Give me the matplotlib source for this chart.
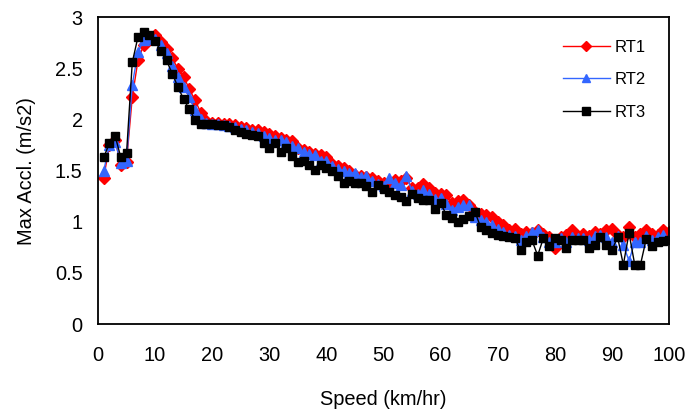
import matplotlib
matplotlib.use("Agg")
import matplotlib.pyplot as plt

plt.rcParams['font.family'] = ['Liberation Sans', 'DejaVu Sans']

speed = list(range(1, 101))

rt1 = [1.43, 1.75, 1.80, 1.56, 1.59, 2.22, 2.58, 2.73, 2.81, 2.83,
       2.76, 2.69, 2.60, 2.50, 2.42, 2.30, 2.19, 2.07, 1.99, 1.97,
       1.97, 1.96, 1.96, 1.95, 1.93, 1.92, 1.90, 1.90, 1.88, 1.86,
       1.84, 1.82, 1.80, 1.79, 1.72, 1.70, 1.68, 1.66, 1.65, 1.63,
       1.57, 1.55, 1.53, 1.50, 1.46, 1.45, 1.44, 1.43, 1.40, 1.38,
       1.38, 1.41, 1.40, 1.43, 1.33, 1.33, 1.37, 1.33, 1.28, 1.27,
       1.26, 1.18, 1.20, 1.21, 1.16, 1.10, 1.08, 1.07, 1.05, 1.00,
       0.97, 0.92, 0.93, 0.88, 0.90, 0.89, 0.92, 0.88, 0.85, 0.74,
       0.85, 0.87, 0.92, 0.86, 0.88, 0.86, 0.90, 0.88, 0.92, 0.93,
       0.87, 0.85, 0.95, 0.85, 0.88, 0.92, 0.88, 0.87, 0.92, 0.90]

rt2 = [1.50, 1.75, 1.78, 1.58, 1.60, 2.34, 2.66, 2.78, 2.80, 2.79,
       2.73, 2.65, 2.53, 2.42, 2.32, 2.22, 2.09, 2.01, 1.97, 1.96,
       1.96, 1.95, 1.94, 1.93, 1.91, 1.90, 1.88, 1.87, 1.84, 1.82,
       1.80, 1.80, 1.78, 1.74, 1.72, 1.68, 1.66, 1.65, 1.60, 1.60,
       1.55, 1.52, 1.50, 1.48, 1.48, 1.44, 1.45, 1.40, 1.37, 1.35,
       1.43, 1.38, 1.36, 1.45, 1.30, 1.27, 1.31, 1.27, 1.22, 1.23,
       1.17, 1.12, 1.15, 1.16, 1.16, 1.05, 1.02, 1.00, 0.97, 0.93,
       0.90, 0.87, 0.86, 0.82, 0.86, 0.90, 0.92, 0.85, 0.80, 0.80,
       0.84, 0.80, 0.85, 0.84, 0.84, 0.82, 0.86, 0.87, 0.85, 0.80,
       0.86, 0.77, 0.62, 0.80, 0.80, 0.86, 0.82, 0.85, 0.87, 0.83]

rt3 = [1.63, 1.77, 1.84, 1.63, 1.67, 2.56, 2.81, 2.86, 2.83, 2.77,
       2.67, 2.58, 2.45, 2.32, 2.20, 2.10, 2.00, 1.96, 1.96, 1.96,
       1.95, 1.95, 1.93, 1.90, 1.88, 1.86, 1.85, 1.84, 1.77, 1.72,
       1.77, 1.68, 1.72, 1.64, 1.59, 1.60, 1.56, 1.51, 1.56, 1.53,
       1.50, 1.45, 1.38, 1.40, 1.38, 1.38, 1.35, 1.29, 1.36, 1.32,
       1.29, 1.26, 1.24, 1.20, 1.27, 1.23, 1.21, 1.21, 1.13, 1.18,
       1.07, 1.04, 1.00, 1.03, 1.06, 1.10, 0.95, 0.92, 0.89, 0.87,
       0.86, 0.85, 0.84, 0.72, 0.80, 0.82, 0.67, 0.84, 0.76, 0.84,
       0.82, 0.74, 0.82, 0.82, 0.82, 0.74, 0.77, 0.85, 0.77, 0.72,
       0.85, 0.58, 0.89, 0.58, 0.58, 0.83, 0.76, 0.80, 0.81, 0.82]

series_names = ['RT1', 'RT2', 'RT3']
x_ticks = [0, 10, 20, 30, 40, 50, 60, 70, 80, 90, 100]
y_ticks = [0, 0.5, 1, 1.5, 2, 2.5, 3]
y_tick_labels = ['0', '0.5', '1', '1.5', '2', '2.5', '3']

fig = plt.figure(figsize=(6.88, 4.15), dpi=100)
ax = fig.add_axes([98/688, 1-324/415, 571/688, (324-17.5)/415])

ax.plot(speed, rt1, color='#ff0000', lw=1.0, marker='D', ms=6,
        mec='#ff0000', mfc='#ff0000', label=series_names[0])
ax.plot(speed, rt2, color='#3366ff', lw=1.0, marker='^', ms=7.5,
        mec='#3366ff', mfc='#3366ff', label=series_names[1])
ax.plot(speed, rt3, color='#000000', lw=1.0, marker='s', ms=6,
        mec='#000000', mfc='#000000', label=series_names[2])

ax.set_xlim(0, 100)
ax.set_ylim(0, 3)
ax.set_xticks(x_ticks)
ax.set_yticks(y_ticks)
ax.set_yticklabels(y_tick_labels)
ax.tick_params(axis='both', length=0, labelsize=14.4)
ax.tick_params(axis='x', pad=16)
ax.tick_params(axis='y', pad=11)
for s in ax.spines.values():
    s.set_linewidth(1.3)
    s.set_color('black')

ax.set_xlabel('Speed (km/hr)', fontsize=14.4, labelpad=18)
ax.set_ylabel('Max Accl. (m/s2)', fontsize=14.4, labelpad=14)

leg = ax.legend(loc='upper left', bbox_to_anchor=(0.80, 0.955), frameon=False,
                fontsize=12, handlelength=2.8, handletextpad=0.3,
                labelspacing=1.05, borderpad=0, markerscale=0.85)

fig.savefig('out.png', dpi=100)
